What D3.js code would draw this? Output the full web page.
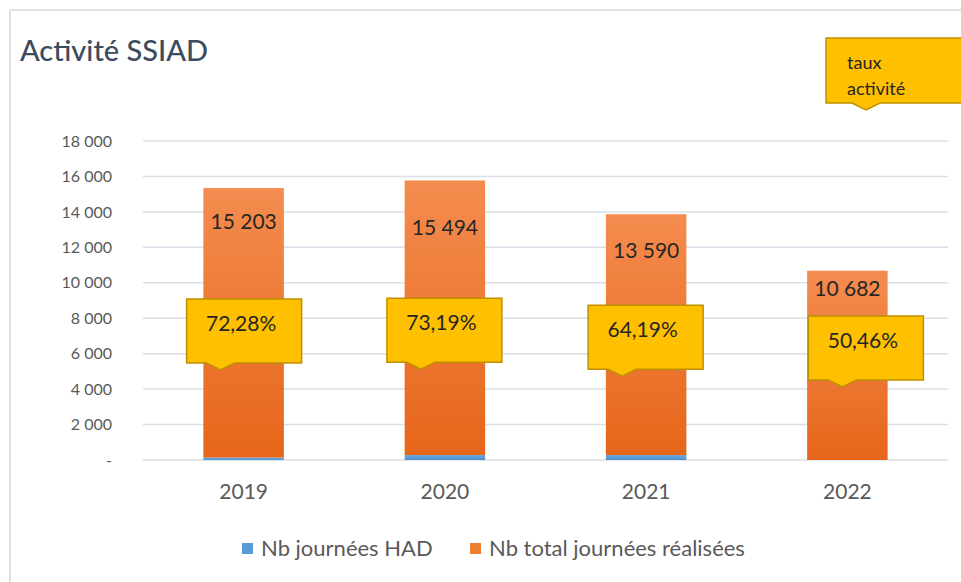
<!DOCTYPE html>
<html>
<head>
<meta charset="utf-8">
<script src="https://cdn.jsdelivr.net/npm/d3@7"></script>
<style>
  html, body { margin: 0; padding: 0; background: #fff; }
  svg { display: block; font-family: Lato, "Open Sans", sans-serif; }
</style>
</head>
<body>
<svg id="chart" width="961" height="582"></svg>
<script>
// Data
const years = ["2019", "2020", "2021", "2022"];
const joursHAD = [140, 280, 280, 0];
const joursTotal = [15203, 15494, 13590, 10682];
const tauxActivite = [72.28, 73.19, 64.19, 50.46];
const yTicks = [0, 2000, 4000, 6000, 8000, 10000, 12000, 14000, 16000, 18000];
const seriesNames = ["Nb journées HAD", "Nb total journées réalisées"];

// Layout
const W = 961, H = 582;
const plot = { left: 143, right: 948, top: 141, bottom: 460 };
const labelDy = [41, 55, 44, 25];        // value label offset below bar top
const calloutDx = [-23, -24, -24, -5];   // callout pointer offset from bar centre
const calloutW = 115, calloutH = 64, pointerH = 7;

const svg = d3.select("#chart");

// French number format
const fr = d3.formatLocale({ decimal: ",", thousands: " ", grouping: [3], currency: ["", " €"] });
const fmtInt = fr.format(",d");
const fmtPct = d => fr.format(".2f")(d) + "%";

// Frame
svg.append("rect")
    .attr("x", 10).attr("y", 10)
    .attr("width", W).attr("height", H)
    .attr("fill", "#fff")
    .attr("stroke", "#d9d9d9")
    .attr("stroke-width", 1.5);

// Gradients
const defs = svg.append("defs");
function addGradient(id, top, bottom) {
    const g = defs.append("linearGradient")
        .attr("id", id)
        .attr("x1", 0).attr("y1", 0).attr("x2", 0).attr("y2", 1);
    g.append("stop").attr("offset", "0%").attr("stop-color", top);
    g.append("stop").attr("offset", "100%").attr("stop-color", bottom);
}
addGradient("gradOrange", "#f48c4f", "#e6661a");
addGradient("gradBlue", "#6aa8de", "#4f8fcc");

// Scales
const x = d3.scaleBand()
    .domain(years)
    .range([plot.left, plot.right])
    .paddingInner(0.6)
    .paddingOuter(0.3);

const y = d3.scaleLinear()
    .domain([0, 18000])
    .range([plot.bottom, plot.top]);

// hidden secondary axis for the "taux activité" callouts
const yRate = d3.scaleLinear()
    .domain([50, 75])
    .range([y(4100), y(5200)]);

// Title
svg.append("text")
    .attr("x", 20).attr("y", 61)
    .attr("fill", "#3d4b5f")
    .attr("font-size", 29)
    .attr("font-weight", 500)
    .text("Activité SSIAD");

// Grid lines
svg.append("g")
    .selectAll("line")
    .data(yTicks)
    .join("line")
    .attr("x1", plot.left).attr("x2", plot.right)
    .attr("y1", d => y(d)).attr("y2", d => y(d))
    .attr("stroke", "#dadee7")
    .attr("stroke-width", 1.5);

// Y axis labels
const yAxis = d3.axisLeft(y)
    .tickValues(yTicks)
    .tickSize(0)
    .tickPadding(0)
    .tickFormat(d => d === 0 ? "-" : fmtInt(d));

svg.append("g")
    .attr("transform", `translate(112,0)`)
    .call(yAxis)
    .call(g => g.select(".domain").remove())
    .call(g => g.selectAll("text")
        .attr("fill", "#595959")
        .attr("font-size", 16)
        .attr("font-family", "Lato, sans-serif"));

// X axis labels
const xAxis = d3.axisBottom(x).tickSize(0).tickPadding(0);
svg.append("g")
    .attr("transform", `translate(0,${plot.bottom + 24})`)
    .call(xAxis)
    .call(g => g.select(".domain").remove())
    .call(g => g.selectAll("text")
        .attr("fill", "#595959")
        .attr("font-size", 21)
        .attr("font-family", "Lato, sans-serif"));

// Bars: HAD at bottom, total stacked on top
svg.append("g")
    .selectAll("rect")
    .data(years)
    .join("rect")
    .attr("x", d => x(d))
    .attr("width", x.bandwidth())
    .attr("y", (d, i) => y(joursHAD[i]))
    .attr("height", (d, i) => y(0) - y(joursHAD[i]))
    .attr("fill", "url(#gradBlue)");

svg.append("g")
    .selectAll("rect")
    .data(years)
    .join("rect")
    .attr("x", d => x(d))
    .attr("width", x.bandwidth())
    .attr("y", (d, i) => y(joursHAD[i] + joursTotal[i]))
    .attr("height", (d, i) => y(joursHAD[i]) - y(joursHAD[i] + joursTotal[i]))
    .attr("fill", "url(#gradOrange)");

// Value labels
svg.append("g")
    .selectAll("text")
    .data(years)
    .join("text")
    .attr("x", d => x(d) + x.bandwidth() / 2)
    .attr("y", (d, i) => y(joursHAD[i] + joursTotal[i]) + labelDy[i])
    .attr("text-anchor", "middle")
    .attr("fill", "#262626")
    .attr("font-size", 21)
    .text((d, i) => fmtInt(joursTotal[i]));

// Callout shape: box with a small pointer, tip at (0,0)
function calloutPath(w, h, tipLeft) {
    const b = -pointerH;            // box bottom
    const t = b - h;                // box top
    const l = -tipLeft, r = l + w;
    return `M${l},${t}H${r}V${b}H14L0,0L-14,${b}H${l}Z`;
}

const callouts = svg.append("g")
    .selectAll("g")
    .data(years)
    .join("g")
    .attr("transform", (d, i) =>
        `translate(${x(d) + x.bandwidth() / 2 + calloutDx[i]},${yRate(tauxActivite[i])})`);

callouts.append("path")
    .attr("d", calloutPath(calloutW, calloutH, 34))
    .attr("fill", "#ffc000")
    .attr("stroke", "#bf9000")
    .attr("stroke-width", 1.5);

callouts.append("text")
    .attr("x", -34 + calloutW / 2 - 3)
    .attr("y", -pointerH - calloutH + 32)
    .attr("text-anchor", "middle")
    .attr("fill", "#262626")
    .attr("font-size", 21)
    .text((d, i) => fmtPct(tauxActivite[i]));

// "taux activité" legend callout
const lg = svg.append("g").attr("transform", "translate(866,110)");
lg.append("path")
    .attr("d", calloutPath(140, 65, 40))
    .attr("fill", "#ffc000")
    .attr("stroke", "#bf9000")
    .attr("stroke-width", 1.5);
lg.append("text")
    .attr("x", -19).attr("y", -41)
    .attr("fill", "#262626")
    .attr("font-size", 18)
    .text("taux");
lg.append("text")
    .attr("x", -19).attr("y", -15)
    .attr("fill", "#262626")
    .attr("font-size", 18)
    .text("activité");

// Legend
const legendColors = ["#5b9bd5", "#ed7d31"];
const legendX = [242, 470];
const legend = svg.append("g")
    .selectAll("g")
    .data(seriesNames)
    .join("g")
    .attr("transform", (d, i) => `translate(${legendX[i]},543)`);
legend.append("rect")
    .attr("width", 11).attr("height", 11)
    .attr("fill", (d, i) => legendColors[i]);
legend.append("text")
    .attr("x", 19).attr("y", 13)
    .attr("fill", "#595959")
    .attr("font-size", 22)
    .text(d => d);
</script>
</body>
</html>
